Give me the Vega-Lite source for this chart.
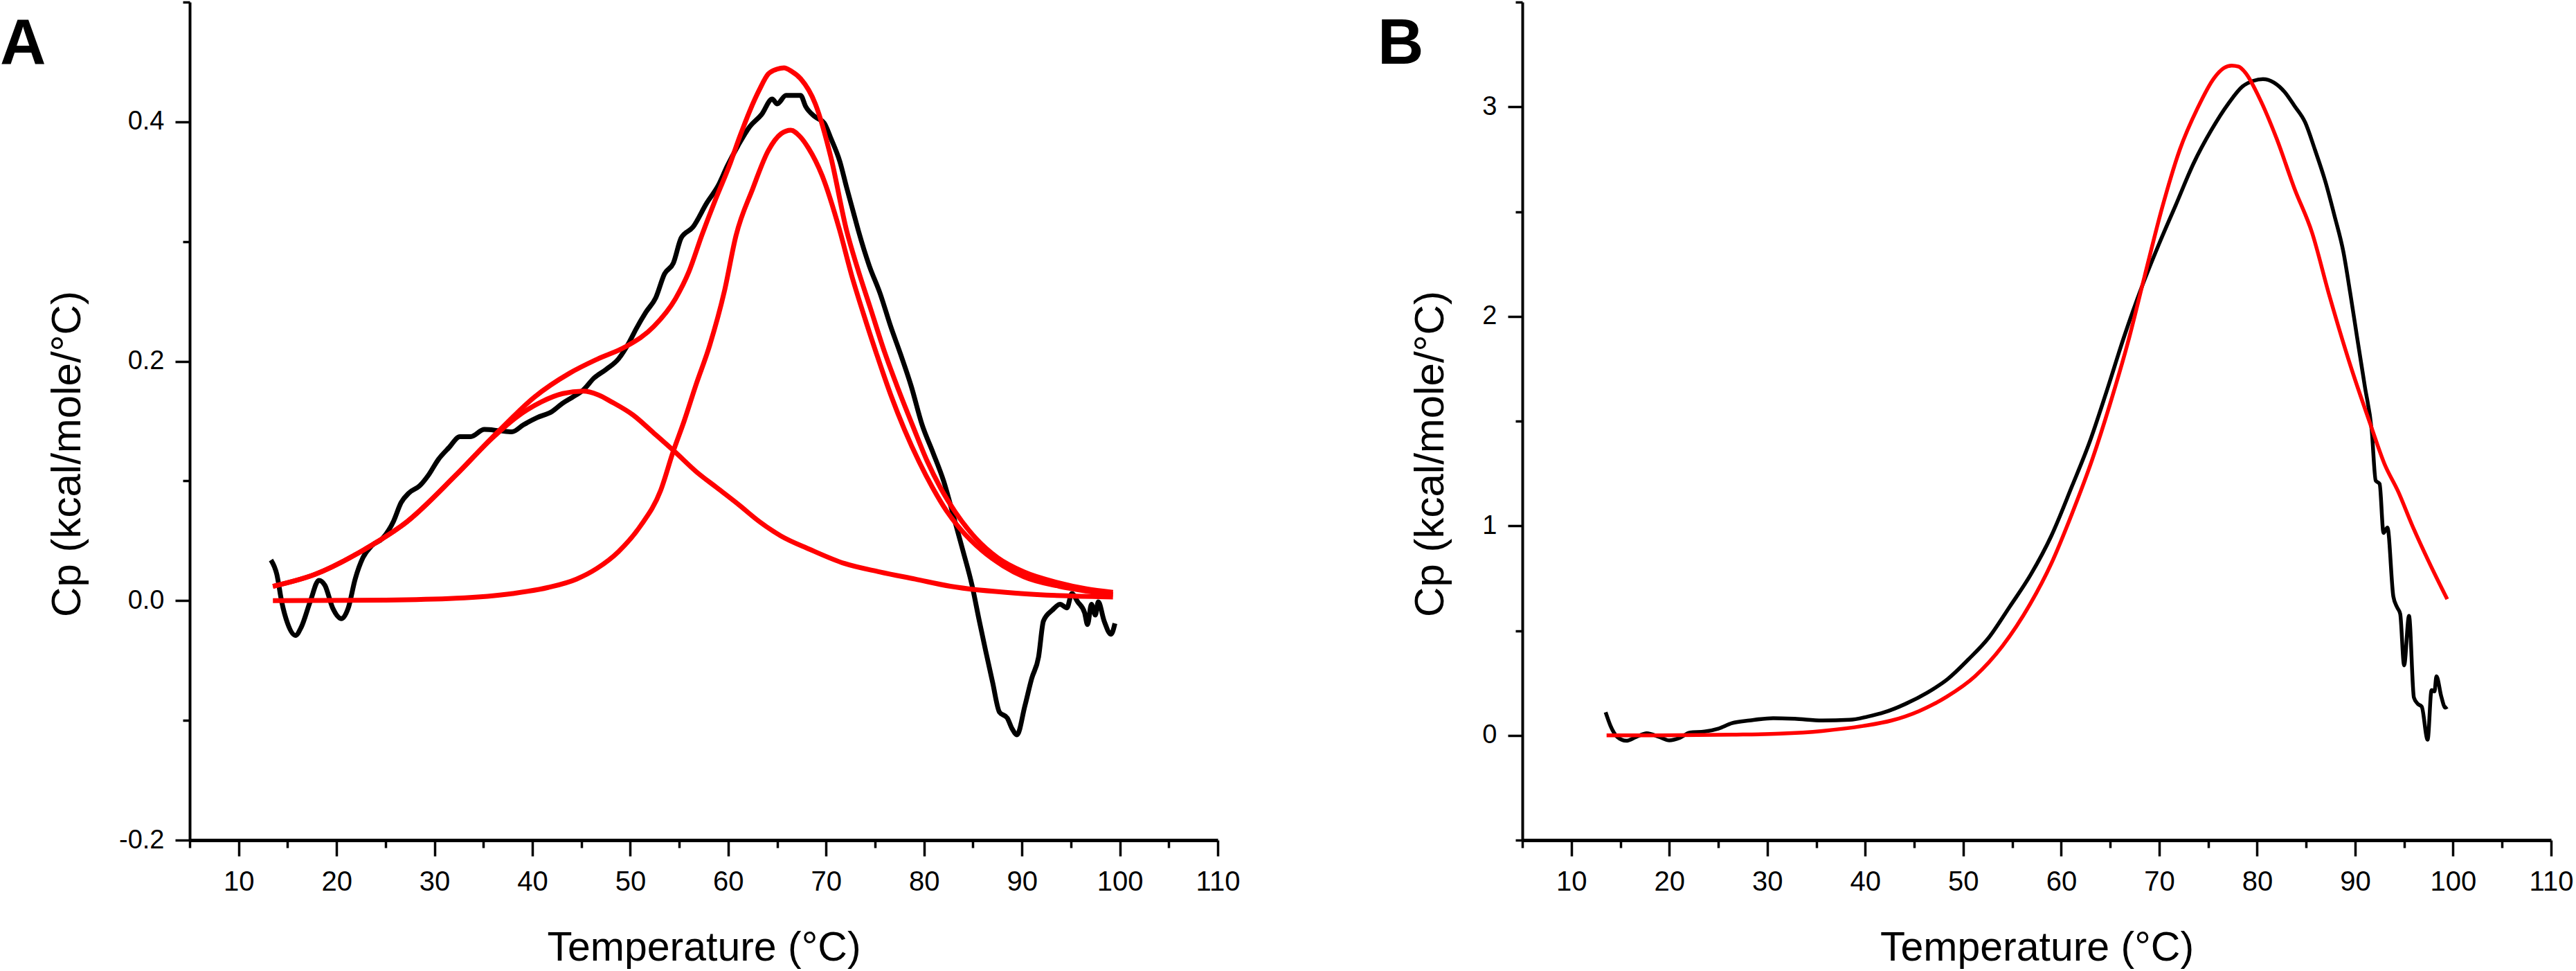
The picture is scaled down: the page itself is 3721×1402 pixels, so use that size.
{
"$schema":"https://vega.github.io/schema/vega-lite/v6.json",
"background":"white",
"padding":{"left":0,"top":1,"right":10,"bottom":2},
"spacing":440,
"bounds":"flush",
"config":{"view":{"stroke":null},"axis":{"grid":false,"domainColor":"black","tickColor":"black","labelColor":"black","titleColor":"black","labelFont":"Liberation Sans","titleFont":"Liberation Sans","titleFontWeight":"normal","labelOverlap":false,"labelFlush":false},"line":{"strokeJoin":"round"}},
"datasets":{
"a":[
{"s":"d","t":13.3,"v":0.034},{"s":"d","t":13.9,"v":0.022},{"s":"d","t":14.4,"v":-0.001},{"s":"d","t":15.0,"v":-0.019},{"s":"d","t":15.8,"v":-0.029},{"s":"d","t":16.4,"v":-0.022},{"s":"d","t":17.3,"v":-0.001},{"s":"d","t":18.2,"v":0.017},{"s":"d","t":18.8,"v":0.013},{"s":"d","t":19.6,"v":-0.006},{"s":"d","t":20.5,"v":-0.015},{"s":"d","t":21.2,"v":-0.006},{"s":"d","t":21.9,"v":0.018},{"s":"d","t":22.7,"v":0.036},{"s":"d","t":23.6,"v":0.046},{"s":"d","t":24.7,"v":0.052},{"s":"d","t":25.8,"v":0.066},{"s":"d","t":26.6,"v":0.082},{"s":"d","t":27.4,"v":0.090},{"s":"d","t":28.5,"v":0.096},{"s":"d","t":29.4,"v":0.105},{"s":"d","t":30.4,"v":0.118},{"s":"d","t":31.5,"v":0.128},{"s":"d","t":32.6,"v":0.137},{"s":"d","t":33.7,"v":0.137},{"s":"d","t":35.1,"v":0.143},{"s":"d","t":36.6,"v":0.142},{"s":"d","t":37.9,"v":0.141},{"s":"d","t":39.1,"v":0.147},{"s":"d","t":40.5,"v":0.153},{"s":"d","t":42.0,"v":0.158},{"s":"d","t":43.1,"v":0.165},{"s":"d","t":44.1,"v":0.170},{"s":"d","t":45.2,"v":0.176},{"s":"d","t":46.3,"v":0.186},{"s":"d","t":47.5,"v":0.193},{"s":"d","t":48.8,"v":0.202},{"s":"d","t":49.9,"v":0.216},{"s":"d","t":50.6,"v":0.227},{"s":"d","t":51.6,"v":0.241},{"s":"d","t":52.6,"v":0.253},{"s":"d","t":53.5,"v":0.273},{"s":"d","t":54.4,"v":0.282},{"s":"d","t":55.2,"v":0.303},{"s":"d","t":56.4,"v":0.312},{"s":"d","t":57.8,"v":0.332},{"s":"d","t":59.0,"v":0.347},{"s":"d","t":59.9,"v":0.363},{"s":"d","t":61.0,"v":0.380},{"s":"d","t":62.2,"v":0.396},{"s":"d","t":63.4,"v":0.406},{"s":"d","t":64.5,"v":0.419},{"s":"d","t":65.0,"v":0.415},{"s":"d","t":65.9,"v":0.422},{"s":"d","t":67.4,"v":0.422},{"s":"d","t":67.9,"v":0.413},{"s":"d","t":68.9,"v":0.404},{"s":"d","t":69.8,"v":0.399},{"s":"d","t":70.5,"v":0.386},{"s":"d","t":71.4,"v":0.367},{"s":"d","t":72.1,"v":0.345},{"s":"d","t":72.8,"v":0.324},{"s":"d","t":73.3,"v":0.309},{"s":"d","t":74.4,"v":0.280},{"s":"d","t":75.5,"v":0.257},{"s":"d","t":76.6,"v":0.229},{"s":"d","t":77.6,"v":0.206},{"s":"d","t":78.7,"v":0.179},{"s":"d","t":79.8,"v":0.147},{"s":"d","t":80.9,"v":0.124},{"s":"d","t":82.0,"v":0.100},{"s":"d","t":83.1,"v":0.068},{"s":"d","t":84.0,"v":0.041},{"s":"d","t":84.9,"v":0.013},{"s":"d","t":85.6,"v":-0.015},{"s":"d","t":86.3,"v":-0.042},{"s":"d","t":87.0,"v":-0.068},{"s":"d","t":87.7,"v":-0.093},{"s":"d","t":88.5,"v":-0.098},{"s":"d","t":89.0,"v":-0.107},{"s":"d","t":89.5,"v":-0.112},{"s":"d","t":90.3,"v":-0.088},{"s":"d","t":91.0,"v":-0.065},{"s":"d","t":91.7,"v":-0.047},{"s":"d","t":92.2,"v":-0.017},{"s":"d","t":93.1,"v":-0.008},{"s":"d","t":93.9,"v":-0.003},{"s":"d","t":94.6,"v":-0.006},{"s":"d","t":95.1,"v":0.006},{"s":"d","t":95.7,"v":-0.001},{"s":"d","t":96.4,"v":-0.010},{"s":"d","t":96.7,"v":-0.020},{"s":"d","t":97.1,"v":-0.003},{"s":"d","t":97.5,"v":-0.012},{"s":"d","t":97.8,"v":-0.001},{"s":"d","t":98.4,"v":-0.017},{"s":"d","t":99.1,"v":-0.028},{"s":"d","t":99.5,"v":-0.019},
{"s":"f","t":13.5,"v":0.012},{"s":"f","t":17.8,"v":0.022},{"s":"f","t":22.9,"v":0.043},{"s":"f","t":27.2,"v":0.066},{"s":"f","t":32.2,"v":0.105},{"s":"f","t":36.6,"v":0.142},{"s":"f","t":40.2,"v":0.170},{"s":"f","t":43.8,"v":0.190},{"s":"f","t":46.7,"v":0.202},{"s":"f","t":49.5,"v":0.212},{"s":"f","t":52.4,"v":0.229},{"s":"f","t":54.6,"v":0.252},{"s":"f","t":56.0,"v":0.275},{"s":"f","t":57.3,"v":0.305},{"s":"f","t":58.7,"v":0.335},{"s":"f","t":60.1,"v":0.363},{"s":"f","t":61.2,"v":0.388},{"s":"f","t":62.2,"v":0.409},{"s":"f","t":63.2,"v":0.427},{"s":"f","t":64.1,"v":0.440},{"s":"f","t":65.0,"v":0.444},{"s":"f","t":65.7,"v":0.445},{"s":"f","t":66.5,"v":0.442},{"s":"f","t":67.4,"v":0.436},{"s":"f","t":68.9,"v":0.415},{"s":"f","t":70.5,"v":0.370},{"s":"f","t":72.1,"v":0.309},{"s":"f","t":73.2,"v":0.278},{"s":"f","t":74.5,"v":0.245},{"s":"f","t":76.0,"v":0.207},{"s":"f","t":77.4,"v":0.176},{"s":"f","t":78.9,"v":0.145},{"s":"f","t":80.3,"v":0.117},{"s":"f","t":81.7,"v":0.094},{"s":"f","t":83.2,"v":0.074},{"s":"f","t":85.3,"v":0.052},{"s":"f","t":87.5,"v":0.036},{"s":"f","t":90.2,"v":0.024},{"s":"f","t":93.7,"v":0.015},{"s":"f","t":96.5,"v":0.010},{"s":"f","t":99.3,"v":0.007},
{"s":"c1","t":13.5,"v":0.012},{"s":"c1","t":17.8,"v":0.022},{"s":"c1","t":22.9,"v":0.043},{"s":"c1","t":27.2,"v":0.066},{"s":"c1","t":32.2,"v":0.105},{"s":"c1","t":35.8,"v":0.135},{"s":"c1","t":38.5,"v":0.154},{"s":"c1","t":40.9,"v":0.166},{"s":"c1","t":43.1,"v":0.173},{"s":"c1","t":45.2,"v":0.175},{"s":"c1","t":46.7,"v":0.172},{"s":"c1","t":48.1,"v":0.166},{"s":"c1","t":50.3,"v":0.155},{"s":"c1","t":52.4,"v":0.140},{"s":"c1","t":54.6,"v":0.124},{"s":"c1","t":56.7,"v":0.108},{"s":"c1","t":58.9,"v":0.094},{"s":"c1","t":61.1,"v":0.080},{"s":"c1","t":63.2,"v":0.066},{"s":"c1","t":65.4,"v":0.054},{"s":"c1","t":68.3,"v":0.043},{"s":"c1","t":71.9,"v":0.031},{"s":"c1","t":75.5,"v":0.024},{"s":"c1","t":79.1,"v":0.018},{"s":"c1","t":82.7,"v":0.012},{"s":"c1","t":89.9,"v":0.006},{"s":"c1","t":94.6,"v":0.004},{"s":"c1","t":99.3,"v":0.003},
{"s":"c2","t":13.5,"v":0.0},{"s":"c2","t":25.0,"v":0.0005},{"s":"c2","t":32.2,"v":0.002},{"s":"c2","t":38.0,"v":0.006},{"s":"c2","t":41.6,"v":0.011},{"s":"c2","t":44.5,"v":0.018},{"s":"c2","t":46.6,"v":0.027},{"s":"c2","t":48.8,"v":0.041},{"s":"c2","t":51.0,"v":0.062},{"s":"c2","t":53.1,"v":0.092},{"s":"c2","t":54.4,"v":0.125},{"s":"c2","t":55.5,"v":0.150},{"s":"c2","t":56.7,"v":0.180},{"s":"c2","t":58.1,"v":0.213},{"s":"c2","t":59.6,"v":0.258},{"s":"c2","t":60.8,"v":0.305},{"s":"c2","t":62.5,"v":0.344},{"s":"c2","t":64.1,"v":0.376},{"s":"c2","t":65.4,"v":0.390},{"s":"c2","t":66.4,"v":0.393},{"s":"c2","t":67.3,"v":0.388},{"s":"c2","t":68.2,"v":0.378},{"s":"c2","t":69.6,"v":0.355},{"s":"c2","t":71.4,"v":0.309},{"s":"c2","t":72.6,"v":0.272},{"s":"c2","t":73.8,"v":0.240},{"s":"c2","t":75.2,"v":0.205},{"s":"c2","t":76.6,"v":0.172},{"s":"c2","t":78.0,"v":0.143},{"s":"c2","t":79.5,"v":0.116},{"s":"c2","t":80.9,"v":0.094},{"s":"c2","t":82.3,"v":0.075},{"s":"c2","t":83.8,"v":0.059},{"s":"c2","t":85.9,"v":0.042},{"s":"c2","t":88.1,"v":0.029},{"s":"c2","t":90.2,"v":0.020},{"s":"c2","t":93.8,"v":0.012},{"s":"c2","t":96.6,"v":0.008},{"s":"c2","t":99.3,"v":0.005}
],
"b":[
{"s":"d","t":13.5,"v":0.11},{"s":"d","t":14.0,"v":0.045},{"s":"d","t":14.7,"v":-0.008},{"s":"d","t":15.6,"v":-0.026},{"s":"d","t":16.6,"v":-0.008},{"s":"d","t":17.7,"v":0.01},{"s":"d","t":19.0,"v":-0.008},{"s":"d","t":20.0,"v":-0.024},{"s":"d","t":21.1,"v":-0.011},{"s":"d","t":22.1,"v":0.013},{"s":"d","t":23.6,"v":0.018},{"s":"d","t":25.0,"v":0.032},{"s":"d","t":26.4,"v":0.058},{"s":"d","t":28.2,"v":0.071},{"s":"d","t":30.6,"v":0.082},{"s":"d","t":32.8,"v":0.079},{"s":"d","t":35.6,"v":0.071},{"s":"d","t":38.4,"v":0.074},{"s":"d","t":40.2,"v":0.089},{"s":"d","t":42.0,"v":0.111},{"s":"d","t":44.1,"v":0.15},{"s":"d","t":46.3,"v":0.203},{"s":"d","t":48.4,"v":0.268},{"s":"d","t":50.5,"v":0.361},{"s":"d","t":52.6,"v":0.466},{"s":"d","t":54.7,"v":0.611},{"s":"d","t":56.9,"v":0.768},{"s":"d","t":59.0,"v":0.953},{"s":"d","t":61.1,"v":1.189},{"s":"d","t":62.9,"v":1.40},{"s":"d","t":64.6,"v":1.637},{"s":"d","t":66.4,"v":1.90},{"s":"d","t":68.2,"v":2.137},{"s":"d","t":70.0,"v":2.347},{"s":"d","t":71.7,"v":2.532},{"s":"d","t":73.5,"v":2.729},{"s":"d","t":75.3,"v":2.887},{"s":"d","t":77.1,"v":3.018},{"s":"d","t":78.5,"v":3.097},{"s":"d","t":79.6,"v":3.124},{"s":"d","t":80.6,"v":3.132},{"s":"d","t":81.7,"v":3.116},{"s":"d","t":82.8,"v":3.071},{"s":"d","t":83.8,"v":3.005},{"s":"d","t":84.9,"v":2.926},{"s":"d","t":85.9,"v":2.795},{"s":"d","t":87.0,"v":2.637},{"s":"d","t":87.9,"v":2.479},{"s":"d","t":88.8,"v":2.308},{"s":"d","t":89.5,"v":2.111},{"s":"d","t":90.2,"v":1.90},{"s":"d","t":91.0,"v":1.663},{"s":"d","t":91.7,"v":1.453},{"s":"d","t":92.1,"v":1.216},{"s":"d","t":92.5,"v":1.20},{"s":"d","t":92.9,"v":0.966},{"s":"d","t":93.3,"v":0.992},{"s":"d","t":93.9,"v":0.663},{"s":"d","t":94.3,"v":0.61},{"s":"d","t":94.6,"v":0.58},{"s":"d","t":95.0,"v":0.334},{"s":"d","t":95.5,"v":0.57},{"s":"d","t":96.0,"v":0.18},{"s":"d","t":96.4,"v":0.15},{"s":"d","t":96.8,"v":0.137},{"s":"d","t":97.4,"v":-0.021},{"s":"d","t":97.8,"v":0.216},{"s":"d","t":98.1,"v":0.21},{"s":"d","t":98.3,"v":0.282},{"s":"d","t":98.8,"v":0.184},{"s":"d","t":99.2,"v":0.132},{"s":"d","t":99.4,"v":0.137},
{"s":"f","t":13.6,"v":0.0},{"s":"f","t":19.3,"v":0.0},{"s":"f","t":26.4,"v":0.003},{"s":"f","t":31.3,"v":0.008},{"s":"f","t":35.6,"v":0.021},{"s":"f","t":39.8,"v":0.045},{"s":"f","t":42.7,"v":0.071},{"s":"f","t":45.5,"v":0.116},{"s":"f","t":48.3,"v":0.184},{"s":"f","t":51.2,"v":0.282},{"s":"f","t":54.0,"v":0.426},{"s":"f","t":56.8,"v":0.624},{"s":"f","t":59.0,"v":0.821},{"s":"f","t":61.1,"v":1.058},{"s":"f","t":63.2,"v":1.321},{"s":"f","t":65.0,"v":1.584},{"s":"f","t":66.8,"v":1.874},{"s":"f","t":68.5,"v":2.189},{"s":"f","t":70.3,"v":2.518},{"s":"f","t":72.1,"v":2.795},{"s":"f","t":73.9,"v":2.992},{"s":"f","t":75.6,"v":3.137},{"s":"f","t":76.6,"v":3.185},{"s":"f","t":77.4,"v":3.197},{"s":"f","t":78.1,"v":3.192},{"s":"f","t":78.8,"v":3.163},{"s":"f","t":80.2,"v":3.045},{"s":"f","t":82.0,"v":2.847},{"s":"f","t":83.8,"v":2.611},{"s":"f","t":85.6,"v":2.40},{"s":"f","t":87.3,"v":2.111},{"s":"f","t":89.5,"v":1.768},{"s":"f","t":91.6,"v":1.479},{"s":"f","t":93.0,"v":1.295},{"s":"f","t":94.4,"v":1.163},{"s":"f","t":95.8,"v":1.005},{"s":"f","t":97.6,"v":0.821},{"s":"f","t":99.4,"v":0.65}
]
},
"hconcat":[
{
"width":1485,"height":1210,
"title":{"text":"A","anchor":"start","frame":"group","orient":"none","offset":0,"align":"left","baseline":"alphabetic","dx":-274,"dy":89,"fontSize":92,"font":"Liberation Sans","fontWeight":"bold","color":"black"},
"data":{"name":"a"},
"encoding":{
"x":{"field":"t","type":"quantitative","scale":{"domain":[5,110],"nice":false,"zero":false},
"axis":{"values":[5,10,15,20,25,30,35,40,45,50,55,60,65,70,75,80,85,90,95,100,105,110],"labelExpr":"datum.value % 10 === 0 ? datum.label : ''","labelFontSize":{"condition":{"test":"datum.value % 10 === 0","value":40},"value":0},"tickSize":{"condition":{"test":"datum.value % 10 === 0","value":23},"value":11},"tickWidth":3.5,"domainWidth":5,"labelPadding":17,"title":"Temperature (°C)","titleFontSize":59,"titlePadding":46}},
"y":{"field":"v","type":"quantitative","scale":{"domain":[-0.2,0.5],"nice":false,"zero":false},
"axis":{"values":[-0.2,-0.1,0,0.1,0.2,0.3,0.4,0.5],"labelExpr":"abs(round(datum.value*10)) % 2 === 0 ? (datum.value < 0 ? '-' : '') + format(abs(datum.value), '.1f') : ''","labelFontSize":{"condition":{"test":"abs(round(datum.value*10)) % 2 === 0","value":38},"value":0},"tickSize":{"condition":{"test":"abs(round(datum.value*10)) % 2 === 0","value":21},"value":10},"tickWidth":3.5,"domainWidth":4,"labelPadding":16,"title":"Cp (kcal/mole/°C)","titleFontSize":60,"titlePadding":43,"titleY":652}}
},
"layer":[
{"transform":[{"filter":"datum.s === 'd'"}],"mark":{"type":"line","color":"black","strokeWidth":7,"interpolate":"monotone"}},
{"transform":[{"filter":"datum.s !== 'd'"}],"mark":{"type":"line","color":"#ff0000","strokeWidth":7,"interpolate":"monotone"},"encoding":{"detail":{"field":"s"}}}
]
},
{
"width":1486,"height":1210,
"title":{"text":"B","anchor":"start","frame":"group","orient":"none","offset":0,"align":"left","baseline":"alphabetic","dx":-209,"dy":89,"fontSize":92,"font":"Liberation Sans","fontWeight":"bold","color":"black"},
"data":{"name":"b"},
"encoding":{
"x":{"field":"t","type":"quantitative","scale":{"domain":[5,110],"nice":false,"zero":false},
"axis":{"values":[5,10,15,20,25,30,35,40,45,50,55,60,65,70,75,80,85,90,95,100,105,110],"labelExpr":"datum.value % 10 === 0 ? datum.label : ''","labelFontSize":{"condition":{"test":"datum.value % 10 === 0","value":40},"value":0},"tickSize":{"condition":{"test":"datum.value % 10 === 0","value":23},"value":11},"tickWidth":3.5,"domainWidth":5,"labelPadding":17,"title":"Temperature (°C)","titleFontSize":59,"titlePadding":46}},
"y":{"field":"v","type":"quantitative","scale":{"domain":[-0.5,3.5],"nice":false,"zero":false},
"axis":{"values":[-0.5,0,0.5,1,1.5,2,2.5,3,3.5],"labelExpr":"datum.value % 1 === 0 ? '' + datum.value : ''","labelFontSize":{"condition":{"test":"datum.value % 1 === 0","value":38},"value":0},"tickSize":{"condition":{"test":"datum.value % 1 === 0","value":21},"value":10},"tickWidth":3.5,"domainWidth":4,"labelPadding":16,"title":"Cp (kcal/mole/°C)","titleFontSize":60,"titlePadding":43,"titleY":652}}
},
"layer":[
{"transform":[{"filter":"datum.s === 'd'"}],"mark":{"type":"line","color":"black","strokeWidth":5.5,"interpolate":"monotone"}},
{"transform":[{"filter":"datum.s !== 'd'"}],"mark":{"type":"line","color":"#ff0000","strokeWidth":5.5,"interpolate":"monotone"},"encoding":{"detail":{"field":"s"}}}
]
}
]
}
